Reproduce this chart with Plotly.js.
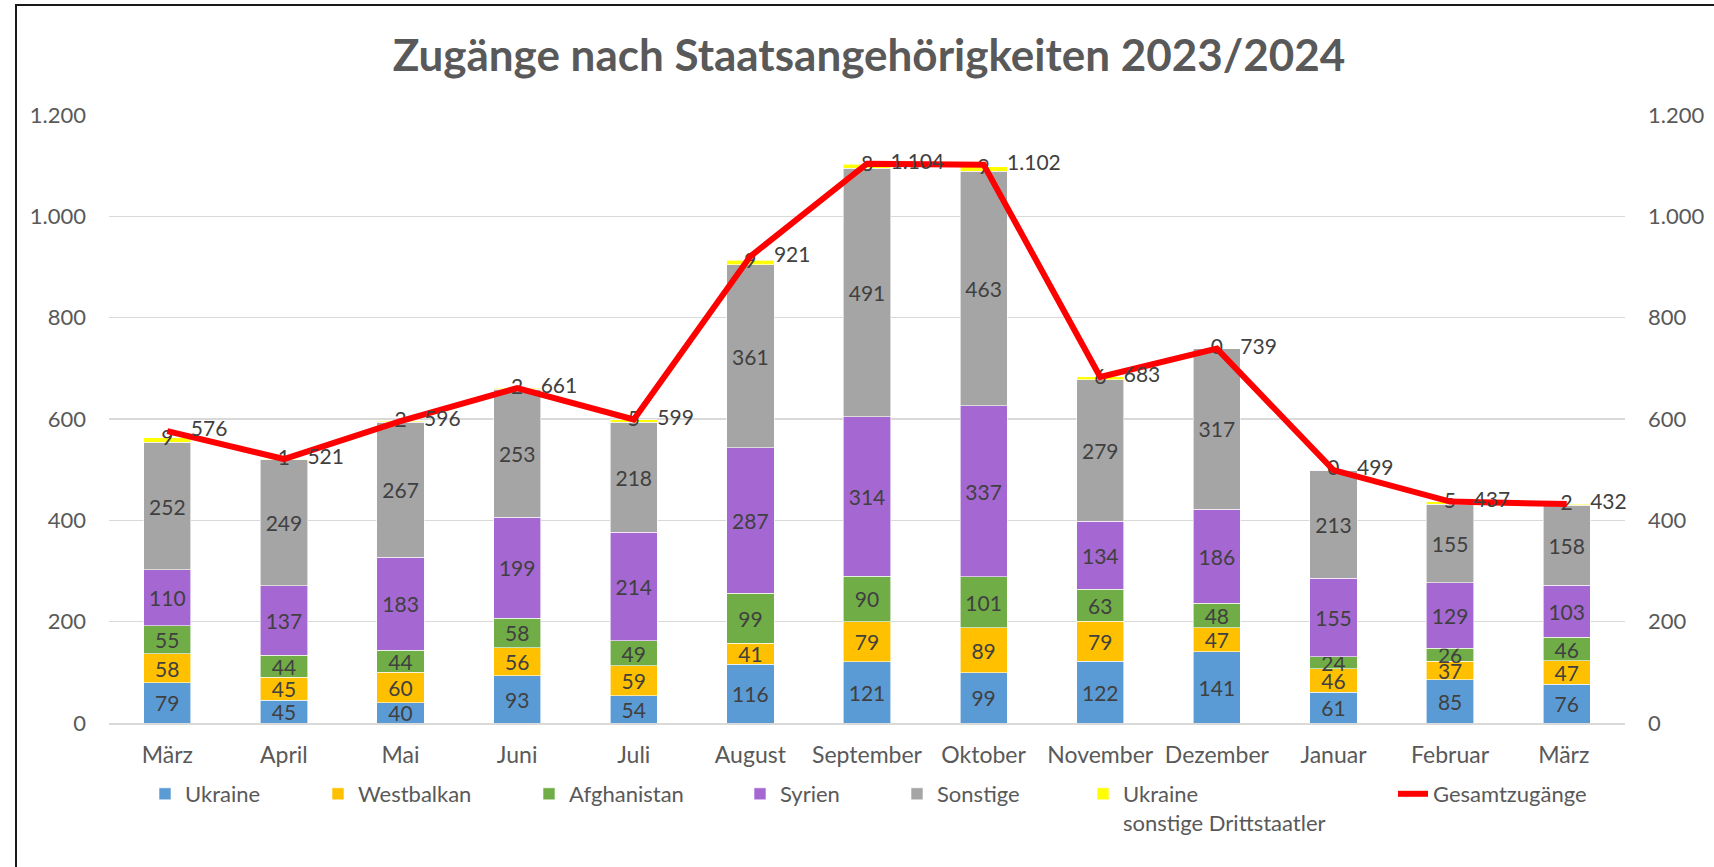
<!DOCTYPE html>
<html>
<head>
<meta charset="utf-8">
<script src="https://cdn.plot.ly/plotly-3.0.1.min.js"></script>
<style>
html,body{margin:0;padding:0;background:#fff;overflow:hidden;}
#wrap{position:relative;width:1714px;height:867px;}
#chart{position:absolute;left:0;top:0;width:1714px;height:867px;}
#frame{position:absolute;left:15px;top:4px;width:2000px;height:2000px;border:2px solid #1a1a1a;pointer-events:none;}
</style>
</head>
<body>
<div id="wrap"><div id="chart"></div><div id="frame"></div></div>
<script>
const months = ["März","April","Mai","Juni","Juli","August","September","Oktober","November","Dezember","Januar","Februar","März "];
const ukraine      = [79, 45, 40, 93, 54, 116, 121, 99, 122, 141, 61, 85, 76];
const westbalkan   = [58, 45, 60, 56, 59, 41, 79, 89, 79, 47, 46, 37, 47];
const afghanistan  = [55, 44, 44, 58, 49, 99, 90, 101, 63, 48, 24, 26, 46];
const syrien       = [110, 137, 183, 199, 214, 287, 314, 337, 134, 186, 155, 129, 103];
const sonstige     = [252, 249, 267, 253, 218, 361, 491, 463, 279, 317, 213, 155, 158];
const ukraineDritt = [9, 1, 2, 2, 5, 9, 8, 9, 6, 0, 0, 5, 2];
const gesamt       = [576, 521, 596, 661, 599, 921, 1104, 1102, 683, 739, 499, 437, 432];

const seriesNames = ["Ukraine","Westbalkan","Afghanistan","Syrien","Sonstige","Ukraine<br>sonstige Drittstaatler"];
const seriesData = [ukraine, westbalkan, afghanistan, syrien, sonstige, ukraineDritt];
const seriesColors = ["#5B9BD5","#FFC000","#70AD47","#A567D1","#A5A5A5","#FFFF00"];
const lineName = "Gesamtzugänge";

const FONT = "Lato, 'Open Sans', sans-serif";
const W = 1714, H = 867;
const legendTextX = [187, 360, 571, 782, 939, 1125, 1435];
const legendKeys = ["legend","legend2","legend3","legend4","legend5","legend6","legend7"];
const LABEL_SIZE = 21;

const traces = seriesData.map((vals, i) => ({
  type: "bar",
  name: seriesNames[i],
  x: months,
  y: vals,
  marker: {color: seriesColors[i], line: {color: "#ffffff", width: 0.6}},
  text: vals.map(v => String(v)),
  textposition: i === 5 ? "none" : "inside",
  insidetextanchor: "middle",
  textangle: 0,
  constraintext: "none",
  textfont: {family: FONT, size: LABEL_SIZE, color: "#404040"},
  hoverinfo: "x+y+name",
  legend: legendKeys[i]
}));

// labels of the thin top segment (also for zero values), centred on that segment
const stackBelow = months.map((_, j) => ukraine[j] + westbalkan[j] + afghanistan[j] + syrien[j] + sonstige[j]);
traces.push({
  type: "scatter",
  mode: "text",
  x: months,
  y: stackBelow.map((b, j) => b + ukraineDritt[j] / 2),
  text: ukraineDritt.map(v => String(v)),
  textposition: "middle center",
  textfont: {family: FONT, size: LABEL_SIZE, color: "#404040"},
  showlegend: false,
  hoverinfo: "skip",
  cliponaxis: false
});

traces.push({
  type: "scatter",
  mode: "lines+markers+text",
  name: lineName,
  x: months,
  y: gesamt,
  yaxis: "y2",
  line: {color: "#FF0000", width: 6},
  marker: {size: 36, opacity: 0, color: "rgba(0,0,0,0)", line: {width: 0}},
  texttemplate: "%{y:,}",
  textposition: "middle right",
  textfont: {family: FONT, size: LABEL_SIZE, color: "#404040"},
  cliponaxis: false,
  legend: "legend7"
});

const layout = {
  width: W, height: H,
  paper_bgcolor: "#ffffff",
  plot_bgcolor: "#ffffff",
  separators: ",.",
  barmode: "stack",
  bargap: 0.595,
  margin: {l: 109, r: 89, t: 115, b: 144},
  font: {family: FONT, color: "#595959"},
  uniformtext: {mode: "show", minsize: LABEL_SIZE},
  title: {
    text: "<b>Zugänge nach Staatsangehörigkeiten 2023/2024</b>",
    font: {family: FONT, size: 44, color: "#595959"},
    x: 869 / W, xanchor: "center", xref: "container",
    y: 1 - 56 / H, yanchor: "middle", yref: "container"
  },
  xaxis: {
    type: "category",
    range: [-0.5, 12.5],
    showgrid: false,
    showline: true, linecolor: "#D9D9D9", linewidth: 1.5,
    ticks: "", ticklabelstandoff: 11,
    tickfont: {family: FONT, size: 23, color: "#595959"},
    fixedrange: true
  },
  yaxis: {
    range: [0, 1200], dtick: 200, tick0: 0,
    tickformat: ",d",
    showgrid: true, gridcolor: "#D9D9D9", gridwidth: 1.5,
    zeroline: false, showline: false,
    ticks: "", ticklabelstandoff: 22,
    tickfont: {family: FONT, size: 22, color: "#595959"},
    fixedrange: true
  },
  yaxis2: {
    range: [0, 1200], dtick: 200, tick0: 0,
    tickformat: ",d",
    overlaying: "y", side: "right",
    showgrid: false, zeroline: false, showline: false,
    ticks: "", ticklabelstandoff: 22,
    tickfont: {family: FONT, size: 22, color: "#595959"},
    fixedrange: true
  },
  showlegend: true
};

legendKeys.forEach((k, i) => {
  layout[k] = {
    xref: "container", yref: "container",
    x: (legendTextX[i] - 42) / W, xanchor: "left",
    y: 1 - 773 / H, yanchor: "top",
    valign: "top",
    orientation: "h",
    bgcolor: "rgba(0,0,0,0)",
    font: {family: FONT, size: 22, color: "#595959"},
    itemclick: false, itemdoubleclick: false
  };
});

Plotly.newPlot("chart", traces, layout, {displayModeBar: false, staticPlot: true});
</script>
</body>
</html>
